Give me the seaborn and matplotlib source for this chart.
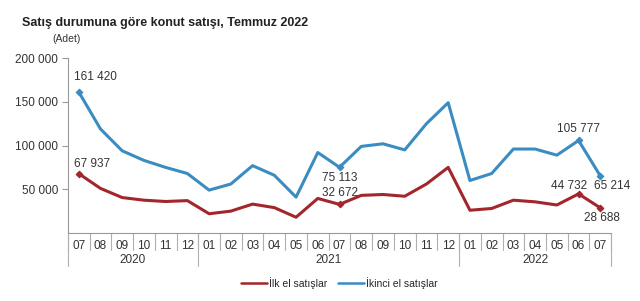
import numpy as np
import pandas as pd
import matplotlib
matplotlib.use("Agg")
import matplotlib.pyplot as plt
import seaborn as sns

# Veriler (Adet)
months = ["07", "08", "09", "10", "11", "12",
          "01", "02", "03", "04", "05", "06", "07", "08", "09", "10", "11", "12",
          "01", "02", "03", "04", "05", "06", "07"]
years = ["2020", "2021", "2022"]
year_sizes = [6, 12, 7]

ilk_el = [67937, 51000, 40500, 37500, 36000, 37000,
          22000, 25000, 33000, 29000, 18000, 39500, 32672, 43000, 44000, 42000, 56000, 75000,
          26000, 28000, 37500, 35600, 32000, 44732, 28688]
ikinci_el = [161420, 119000, 94000, 83000, 75000, 68000,
             49000, 56000, 77000, 66000, 41000, 92000, 75113, 99000, 102000, 95000, 125000, 149000,
             60000, 68000, 96000, 96000, 89000, 105777, 65214]

red = "#a3262c"
blue = "#3a8cc1"

idx = np.arange(len(months))
df = pd.concat([
    pd.DataFrame({"i": idx, "val": ilk_el, "seri": "İlk el satışlar"}),
    pd.DataFrame({"i": idx, "val": ikinci_el, "seri": "İkinci el satışlar"}),
])

sns.set_style("white")
plt.rcParams["font.family"] = ["Liberation Sans", "DejaVu Sans"]

fig = plt.figure(figsize=(6.4, 3.01), dpi=100)
ax = fig.add_axes([0.106, 0.226, 0.849, 0.581])

sns.lineplot(data=df, x="i", y="val", hue="seri",
             palette={"İlk el satışlar": red, "İkinci el satışlar": blue},
             linewidth=2.2, ax=ax, legend=True)

# isaretli noktalar
mark_pts = [0, 12, 23, 24]
ax.scatter(mark_pts, [ilk_el[k] for k in mark_pts], marker="D", s=10, color=red, zorder=3)
ax.scatter(mark_pts, [ikinci_el[k] for k in mark_pts], marker="D", s=10, color=blue, zorder=3)

def fmt(v):
    return f"{v:,}".replace(",", " ")

lab = dict(fontsize=8.5, color="#333333", textcoords="offset pixels")
ax.annotate(fmt(ikinci_el[0]), (0, ikinci_el[0]), xytext=(-5, 9), ha="left", va="bottom", **lab)
ax.annotate(fmt(ilk_el[0]), (0, ilk_el[0]), xytext=(-5, 4), ha="left", va="bottom", **lab)
ax.annotate(fmt(ikinci_el[12]), (12, ikinci_el[12]), xytext=(0, -5), ha="center", va="top", **lab)
ax.annotate(fmt(ilk_el[12]), (12, ilk_el[12]), xytext=(0, 5), ha="center", va="bottom", **lab)
ax.annotate(fmt(ikinci_el[23]), (23, ikinci_el[23]), xytext=(0, 5), ha="center", va="bottom", **lab)
ax.annotate(fmt(ilk_el[23]), (23, ilk_el[23]), xytext=(-10, 2), ha="center", va="bottom", **lab)
ax.annotate(fmt(ikinci_el[24]), (24, ikinci_el[24]), xytext=(12, -4), ha="center", va="top", **lab)
ax.annotate(fmt(ilk_el[24]), (24, ilk_el[24]), xytext=(2, -4), ha="center", va="top", **lab)

ax.set_xlim(-0.5, len(months) - 0.5)
ax.set_ylim(0, 200000)
ax.set_yticks([50000, 100000, 150000, 200000])
ax.set_yticklabels([fmt(v) for v in [50000, 100000, 150000, 200000]], fontsize=8.5, color="#333333")
ax.set_xticks(idx)
ax.set_xticklabels(months, fontsize=8.5, color="#333333")
ax.tick_params(axis="x", length=0, pad=5)
ax.tick_params(axis="y", length=4, width=0.8, color="#999999", left=True, pad=3)
ax.set_xlabel("")
ax.set_ylabel("")
for s in ["top", "right"]:
    ax.spines[s].set_visible(False)
for s in ["left", "bottom"]:
    ax.spines[s].set_color("#999999")
    ax.spines[s].set_linewidth(0.8)

# ay ayiricilari ve yil etiketleri
trans = ax.get_xaxis_transform()
for k in range(len(months) + 1):
    ax.plot([k - 0.5, k - 0.5], [0, -0.1], transform=trans, color="#b0b0b0", lw=0.8, clip_on=False)
start = 0
for y, n in zip(years, year_sizes):
    ax.plot([start - 0.5, start - 0.5], [0, -0.19], transform=trans, color="#b0b0b0", lw=0.8, clip_on=False)
    ax.text(start + n / 2 - 0.5, -0.155, y, transform=trans, ha="center", va="center",
            fontsize=8.5, color="#333333")
    start += n
ax.plot([start - 0.5, start - 0.5], [0, -0.19], transform=trans, color="#b0b0b0", lw=0.8, clip_on=False)

fig.text(0.034, 0.925, "Satış durumuna göre konut satışı, Temmuz 2022", fontsize=9,
         fontweight="bold", color="#222222", va="center")
fig.text(0.082, 0.87, "(Adet)", fontsize=7.5, color="#333333", va="center")

handles, labels = ax.get_legend_handles_labels()
for h in handles:
    h.set_linewidth(1.8)
ax.legend(handles, labels, loc="center", bbox_to_anchor=(0.53, 0.06), bbox_transform=fig.transFigure,
          ncol=2, frameon=False, fontsize=7.5, handlelength=2.5, handletextpad=0.2, columnspacing=1.0)

fig.savefig("out.png", dpi=100)
